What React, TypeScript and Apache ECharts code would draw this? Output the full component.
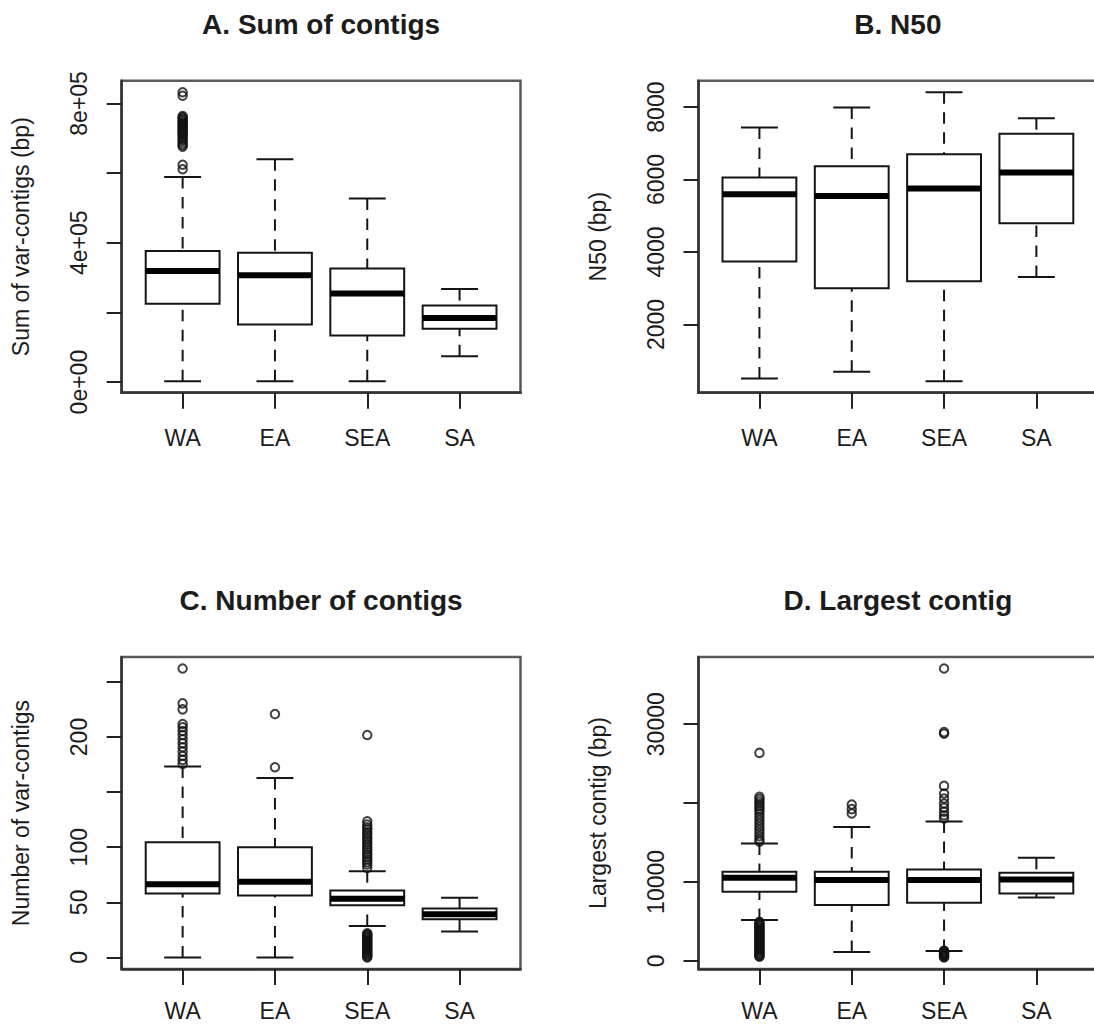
import React, { useEffect, useRef } from "react";
import * as echarts from "echarts";

const FONT = '"Liberation Sans", Arial, Helvetica, sans-serif';

const categories = ["WA", "EA", "SEA", "SA"];

// ---------- Panel A: Sum of contigs ----------
// [min whisker, Q1, median, Q3, max whisker]
const sumStats = [
  [2750, 225000, 319000, 376000, 589000],
  [2800, 165000, 307000, 371000, 640000],
  [2800, 134000, 254000, 326000, 527000],
  [74000, 153000, 184000, 220000, 267000],
];
const sumOutWA = [
  832000, 822000, 764000, 760000, 756000, 752000, 748000, 744000, 740000, 736000, 732000,
  728000, 724000, 720000, 716000, 712000, 707000, 702000, 697000, 692000, 686000, 680000,
  676000, 624000, 611000,
];
const sumOutEA: number[] = [];
const sumOutSEA: number[] = [];
const sumOutSA: number[] = [];
const sumTicks = [0, 200000, 400000, 600000, 800000];
const sumLabelValues = [0, 400000, 800000];
const sumLabels = ["0e+00", "4e+05", "8e+05"];

// ---------- Panel B: N50 ----------
const n50Stats = [
  [508, 3740, 5591, 6058, 7440],
  [690, 2997, 5544, 6368, 7989],
  [434, 3190, 5755, 6698, 8410],
  [3310, 4794, 6195, 7266, 7695],
];
const n50OutWA: number[] = [];
const n50OutEA: number[] = [];
const n50OutSEA: number[] = [];
const n50OutSA: number[] = [];
const n50Ticks = [2000, 4000, 6000, 8000];
const n50LabelValues = [2000, 4000, 6000, 8000];
const n50Labels = ["2000", "4000", "6000", "8000"];

// ---------- Panel C: Number of contigs ----------
const numStats = [
  [0, 58.1, 66.3, 104.5, 173.2],
  [0, 56.3, 68.7, 100, 162.7],
  [28.6, 47.3, 53.3, 60.8, 78.3],
  [23.5, 34.6, 39.1, 44.3, 54.2],
];
const numOutWA = [
  262.1, 230.5, 225.1, 211.8, 208.8, 205.4, 201.8, 197.9, 194.3, 190.7, 186.7, 182.8, 179.2, 175.6,
];
const numOutEA = [220.8, 172.6];
const numOutSEA = [
  201.8, 123.5, 120.5, 118, 116, 113.5, 111.5, 109, 107, 104.5, 102.4, 100, 97.9, 95.5, 93.4,
  91, 88.9, 86.5, 84.3, 81.3,
  22, 21, 20, 19, 18, 17, 16, 15, 14, 13, 12, 11, 10, 9, 8, 7, 6, 5, 4, 3, 2, 1, 0,
];
const numOutSA: number[] = [];
const numTicks = [0, 50, 100, 150, 200, 250];
const numLabelValues = [0, 50, 100, 200];
const numLabels = ["0", "50", "100", "200"];

// ---------- Panel D: Largest contig ----------
const largeStats = [
  [5160, 8745, 10520, 11280, 14880],
  [1100, 7060, 10230, 11280, 16980],
  [1230, 7350, 10230, 11580, 17670],
  [8030, 8540, 10320, 11150, 13050],
];
const largeOutWA = [
  26360, 20790, 20500, 20200, 19900, 19600, 19300, 19000, 18600, 18200, 17800, 17400, 17000,
  16600, 16200, 15800, 15400, 15100,
  4950, 4800, 4650, 4500, 4350, 4200, 4050, 3900, 3750, 3600, 3450, 3300, 3150, 3000, 2850,
  2700, 2550, 2400, 2250, 2100, 1950, 1800, 1650, 1500, 1350, 1200, 1050, 900, 750, 600, 500,
];
const largeOutEA = [19820, 19230, 18680];
const largeOutSEA = [
  37060, 29000, 28800, 22180, 21210, 20580, 19950, 19400, 18890, 18450, 18050,
  1300, 1200, 1100, 1000, 900, 800, 700, 600, 500, 420,
];
const largeOutSA: number[] = [];
const largeTicks = [0, 10000, 20000, 30000];
const largeLabelValues = [0, 10000, 30000];
const largeLabels = ["0", "10000", "30000"];

type Panel = {
  title: string;
  yName: string;
  stats: number[][];
  outliers: number[][];
  ticks: number[];
  labelValues: number[];
  labels: string[];
  left: number;
  top: number;
  xLabelMargin: number;
};

const PW = 398.8;
const PH = 312;

const panels: Panel[] = [
  {
    title: "A. Sum of contigs",
    yName: "Sum of var-contigs (bp)",
    stats: sumStats,
    outliers: [sumOutWA, sumOutEA, sumOutSEA, sumOutSA],
    ticks: sumTicks,
    labelValues: sumLabelValues,
    labels: sumLabels,
    left: 121.7,
    top: 80.7,
    xLabelMargin: 34,
  },
  {
    title: "B. N50",
    yName: "N50 (bp)",
    stats: n50Stats,
    outliers: [n50OutWA, n50OutEA, n50OutSEA, n50OutSA],
    ticks: n50Ticks,
    labelValues: n50LabelValues,
    labels: n50Labels,
    left: 698.5,
    top: 80.7,
    xLabelMargin: 34,
  },
  {
    title: "C. Number of contigs",
    yName: "Number of var-contigs",
    stats: numStats,
    outliers: [numOutWA, numOutEA, numOutSEA, numOutSA],
    ticks: numTicks,
    labelValues: numLabelValues,
    labels: numLabels,
    left: 121.7,
    top: 657,
    xLabelMargin: 30,
  },
  {
    title: "D. Largest contig",
    yName: "Largest contig (bp)",
    stats: largeStats,
    outliers: [largeOutWA, largeOutEA, largeOutSEA, largeOutSA],
    ticks: largeTicks,
    labelValues: largeLabelValues,
    labels: largeLabels,
    left: 698.5,
    top: 657,
    xLabelMargin: 30,
  },
];

// R-style axis range: data range extended by 4% on each side
function rRange(lo: number, hi: number): [number, number] {
  const d = (hi - lo) * 0.04;
  return [lo - d, hi + d];
}

const LINE = "#151515";
const FRAME = "#5a5a5a";
const TEXT = "#1c1c1c";

function buildOption() {
  const n = categories.length;
  const [xMin, xMax] = rRange(0.5, n + 0.5);
  const grid: any[] = [];
  const xAxis: any[] = [];
  const yAxis: any[] = [];
  const series: any[] = [];
  const graphic: any[] = [];

  panels.forEach((p, i) => {
    const allVals: number[] = [];
    p.stats.forEach((s) => allVals.push(...s));
    p.outliers.forEach((o) => allVals.push(...o));
    const [yMin, yMax] = rRange(Math.min(...allVals), Math.max(...allVals));

    grid.push({
      left: p.left,
      top: p.top,
      width: PW,
      height: PH,
      show: true,
      backgroundColor: "transparent",
      borderColor: FRAME,
      borderWidth: 2.5,
      containLabel: false,
      outerBoundsMode: "none",
    });

    const catIdx = categories.map((_, k) => k + 1);
    xAxis.push({
      type: "value",
      gridIndex: i,
      min: xMin,
      max: xMax,
      splitLine: { show: false },
      axisLine: { show: true, onZero: false, lineStyle: { color: "#333", width: 2.5 } },
      axisTick: {
        show: true,
        length: 16,
        customValues: catIdx,
        lineStyle: { color: "#222", width: 2 },
      },
      axisLabel: {
        show: true,
        customValues: catIdx,
        formatter: (v: number) => categories[Math.round(v) - 1] ?? "",
        margin: p.xLabelMargin,
        fontSize: 23,
        lineHeight: 23,
        color: TEXT,
        fontFamily: FONT,
      },
    });

    yAxis.push({
      type: "value",
      gridIndex: i,
      min: yMin,
      max: yMax,
      splitLine: { show: false },
      axisLine: { show: true, onZero: false, lineStyle: { color: "#333", width: 2.5 } },
      axisTick: {
        show: true,
        length: 15,
        customValues: p.ticks,
        lineStyle: { color: "#222", width: 2 },
      },
      axisLabel: {
        show: true,
        customValues: p.labelValues,
        rotate: 90,
        formatter: (v: number) => {
          const k = p.labelValues.findIndex((t) => Math.abs(t - v) < 1e-6);
          return k >= 0 ? p.labels[k] : "";
        },
        margin: 31,
        fontSize: 23,
        color: TEXT,
        fontFamily: FONT,
      },
      name: p.yName,
      nameLocation: "middle",
      nameGap: 89,
      nameTextStyle: { fontSize: 23, color: TEXT, fontFamily: FONT },
    });

    series.push({
      type: "custom",
      xAxisIndex: i,
      yAxisIndex: i,
      silent: true,
      data: p.stats.map((s, k) => [k + 1, ...s]),
      renderItem: (_params: any, api: any) => {
        const x = api.value(0);
        const mn = api.coord([x, api.value(1)]);
        const q1 = api.coord([x, api.value(2)]);
        const md = api.coord([x, api.value(3)]);
        const q3 = api.coord([x, api.value(4)]);
        const mx = api.coord([x, api.value(5)]);
        const hb = api.size([0.4, 0])[0];
        const hc = api.size([0.2, 0])[0];
        const cx = mn[0];
        const dashed = { stroke: LINE, lineWidth: 2, lineDash: [11.5, 8.5], fill: "none" };
        const solid = { stroke: LINE, lineWidth: 2, fill: "none" };
        return {
          type: "group",
          children: [
            { type: "line", shape: { x1: cx, y1: mn[1], x2: cx, y2: q1[1] }, style: dashed },
            { type: "line", shape: { x1: cx, y1: mx[1], x2: cx, y2: q3[1] }, style: dashed },
            { type: "line", shape: { x1: cx - hc, y1: mn[1], x2: cx + hc, y2: mn[1] }, style: solid },
            { type: "line", shape: { x1: cx - hc, y1: mx[1], x2: cx + hc, y2: mx[1] }, style: solid },
            {
              type: "rect",
              shape: { x: cx - hb, y: q3[1], width: 2 * hb, height: q1[1] - q3[1] },
              style: { stroke: LINE, lineWidth: 2, fill: "#fff" },
            },
            {
              type: "line",
              shape: { x1: cx - hb, y1: md[1], x2: cx + hb, y2: md[1] },
              style: { stroke: "#000", lineWidth: 6, lineCap: "butt" },
            },
          ],
        };
      },
    });

    const outData: number[][] = [];
    p.outliers.forEach((o, k) => o.forEach((v) => outData.push([k + 1, v])));
    series.push({
      type: "scatter",
      xAxisIndex: i,
      yAxisIndex: i,
      silent: true,
      data: outData,
      symbol: "circle",
      symbolSize: 8.5,
      itemStyle: { color: "rgba(0,0,0,0)", borderColor: "#111", borderWidth: 2 },
    });

    graphic.push({
      type: "text",
      x: p.left + PW / 2,
      y: p.top - 56.5,
      style: {
        text: p.title,
        fontSize: 28,
        fontWeight: "bold",
        fontFamily: FONT,
        fill: TEXT,
        align: "center",
        verticalAlign: "middle",
        textAlign: "center",
        textVerticalAlign: "middle",
      },
    });
  });

  return {
    animation: false,
    backgroundColor: "#ffffff",
    grid,
    xAxis,
    yAxis,
    series,
    graphic,
  };
}

export default function App() {
  const ref = useRef<HTMLDivElement>(null);
  useEffect(() => {
    if (!ref.current) return;
    const chart = echarts.init(ref.current, null, { renderer: "svg" });
    chart.setOption(buildOption() as any);
    return () => chart.dispose();
  }, []);
  return (
    <div
      ref={ref}
      style={{ position: "fixed", left: 0, top: 0, width: 1094, height: 1025, background: "#fff" }}
    />
  );
}
